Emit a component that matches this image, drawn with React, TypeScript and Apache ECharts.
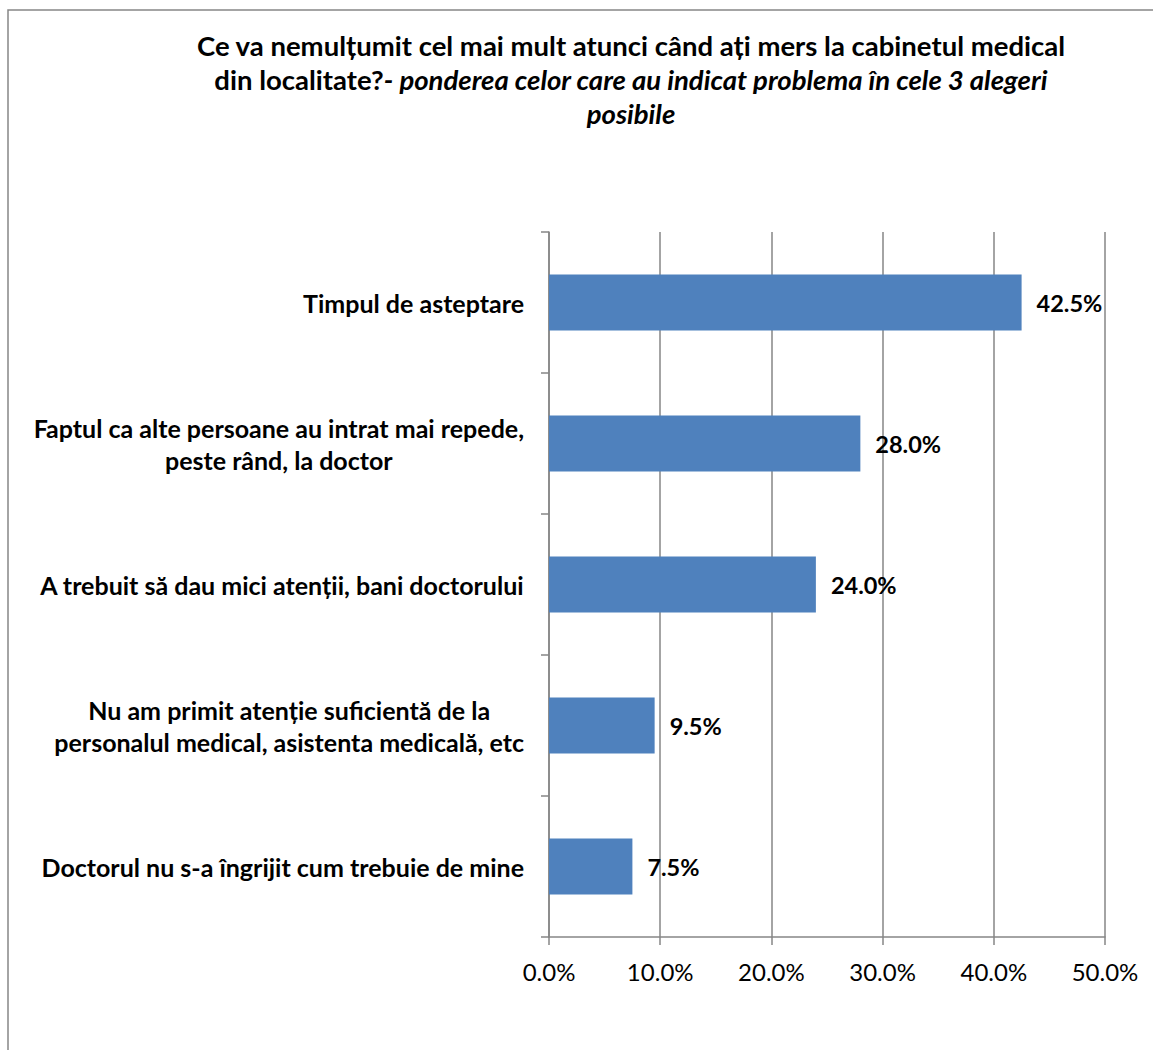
import React, { useEffect, useRef } from "react";
import * as echarts from "echarts";

const categories = [
  "Timpul de asteptare",
  "Faptul ca alte persoane au intrat mai repede,\npeste rând, la doctor",
  "A trebuit să dau mici atenții, bani doctorului",
  "Nu am primit atenție suficientă de la\npersonalul medical, asistenta medicală, etc",
  "Doctorul nu s-a îngrijit cum trebuie de mine",
];
const values = [42.5, 28.0, 24.0, 9.5, 7.5];
const xTicks = [0, 10, 20, 30, 40, 50];

const titleLine1 = "Ce va nemulțumit cel mai mult atunci când ați mers la cabinetul medical";
const titleLine2Bold = "din localitate?";
const titleLine2Italic = "- ponderea celor care au indicat problema în cele 3 alegeri";
const titleLine3 = "posibile";

const FONT = "Lato";

export default function App() {
  const ref = useRef<HTMLDivElement>(null);
  useEffect(() => {
    if (!ref.current) return;
    const chart = echarts.init(ref.current, null, { renderer: "svg" });
    chart.setOption({
      animation: false,
      backgroundColor: "#ffffff",
      title: {
        left: 626,
        top: 23,
        textAlign: "center",
        text: `{b|${titleLine1}}\n{b|${titleLine2Bold}}{i|${titleLine2Italic}}\n{i|${titleLine3}}`,
        textStyle: {
          fontFamily: FONT,
          fontSize: 27.5,
          lineHeight: 34,
          rich: {
            b: { fontFamily: FONT, fontSize: 27.5, fontWeight: "bold", color: "#000", lineHeight: 34 },
            i: { fontFamily: FONT, fontSize: 27.5, fontStyle: "italic", color: "#000", lineHeight: 34 },
          },
        },
      },
      graphic: [
        {
          type: "rect",
          shape: { x: 8, y: 10, width: 1400, height: 1400 },
          style: { fill: "none", stroke: "#868686", lineWidth: 1.5 },
          silent: true,
        },
      ],
      grid: { left: 549, right: 48, top: 232, bottom: 113, containLabel: false },
      xAxis: {
        type: "value",
        min: xTicks[0],
        max: xTicks[xTicks.length - 1],
        interval: 10,
        axisLine: { show: true, lineStyle: { color: "#868686", width: 1.5 } },
        axisTick: { show: true, length: 8, lineStyle: { color: "#868686", width: 1.5 } },
        splitLine: { show: true, lineStyle: { color: "#868686", width: 1.5 } },
        axisLabel: {
          margin: 22,
          fontFamily: FONT,
          fontSize: 24,
          color: "#000",
          formatter: (v: number) => v.toFixed(1) + "%",
        },
      },
      yAxis: {
        type: "category",
        data: categories,
        inverse: true,
        axisLine: { show: true, lineStyle: { color: "#868686", width: 1.5 } },
        axisTick: { show: true, length: 8, lineStyle: { color: "#868686", width: 1.5 } },
        axisLabel: {
          margin: 25,
          fontFamily: FONT,
          fontSize: 25,
          fontWeight: "bold",
          color: "#000",
          lineHeight: 32,
          formatter: (v: string) =>
            v
              .split("\n")
              .map((l) => `{c|${l}}`)
              .join("\n"),
          rich: {
            c: {
              fontFamily: FONT,
              fontSize: 25,
              fontWeight: "bold",
              color: "#000",
              lineHeight: 32,
              align: "center",
            },
          },
        },
      },
      series: [
        {
          type: "bar",
          data: values,
          barWidth: 56,
          itemStyle: { color: "#4F81BD" },
          label: {
            show: true,
            position: "right",
            distance: 15,
            fontFamily: FONT,
            fontSize: 23.5,
            fontWeight: "bold",
            color: "#000",
            formatter: (p: any) => Number(p.value).toFixed(1) + "%",
          },
        },
      ],
    });
    return () => chart.dispose();
  }, []);
  return (
    <div
      ref={ref}
      style={{ position: "absolute", left: 0, top: 0, width: 1153, height: 1050 }}
    />
  );
}
